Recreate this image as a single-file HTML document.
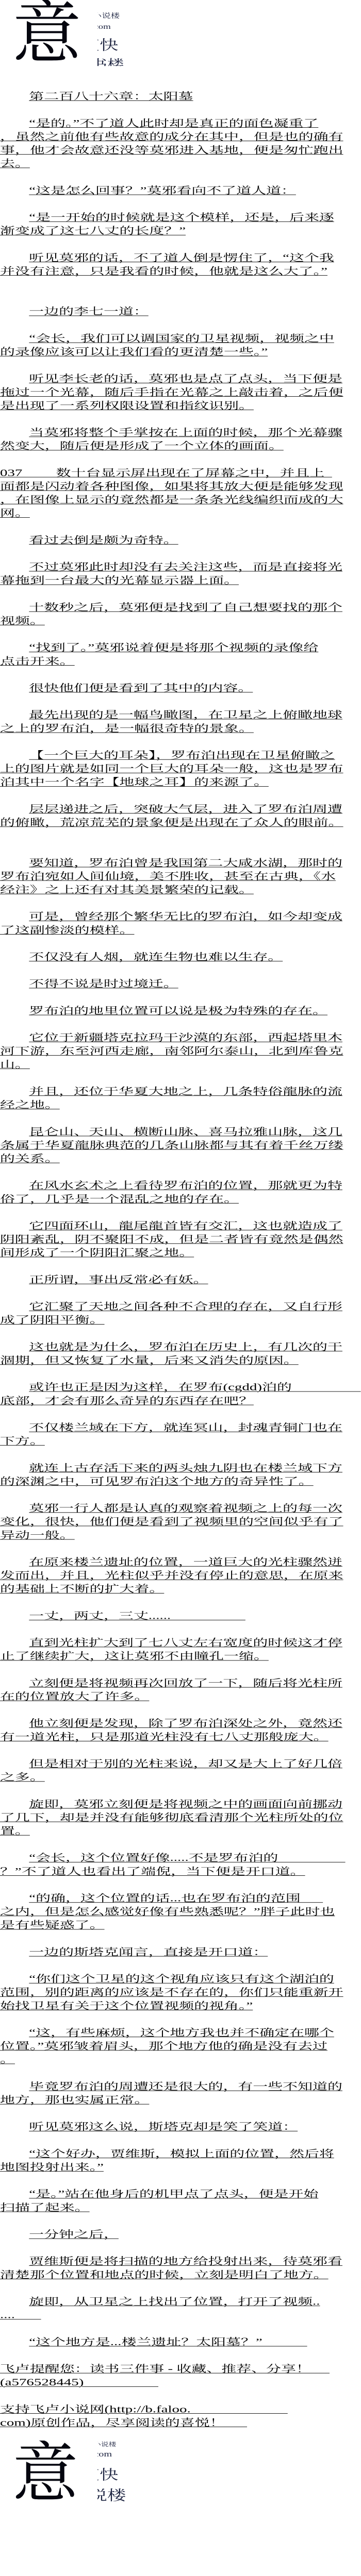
<!DOCTYPE html>
<html><head><meta charset="utf-8">
<style>
html,body{margin:0;padding:0;background:#fff;}
body{width:700px;height:5640px;position:relative;overflow:hidden;color:#000;}
#wrap{position:absolute;left:0;top:0;width:700px;height:5640px;transform:scaleY(0.87);transform-origin:0 0;overflow:hidden;}
#txt{position:absolute;left:0;top:200px;width:522px;height:5250px;transform:scaleX(1.34);transform-origin:0 0;font-family:"Liberation Serif","Noto Serif CJK SC",serif;font-size:21.6px;line-height:30px;overflow:hidden;}
#txt div{position:absolute;left:0;top:calc(var(--n) * 30px);height:30px;white-space:nowrap;}
#txt div.i{left:42px;}
#txt span{text-decoration:underline;text-decoration-thickness:1px;text-underline-offset:2px;}
.logo{position:absolute;left:0;width:260px;height:130px;overflow:hidden;transform:scaleY(1.15);transform-origin:0 0;}
.big{position:absolute;left:24px;top:-2px;font-family:"Liberation Serif","Noto Serif CJK SC",serif;font-size:134px;line-height:1;color:#05060f;}
.col{position:absolute;left:189px;top:0;width:60px;height:128px;overflow:hidden;color:#1c2340;font-family:"Liberation Serif","Noto Serif CJK SC",serif;}
.col .in{position:absolute;left:0;top:0;width:60px;height:130px;transform:scaleX(1.35);transform-origin:0 0;}
.col p{position:absolute;margin:0;white-space:nowrap;line-height:1;}
</style></head><body>
<div id="wrap">
<div class="logo" style="top:0">
 <div class="big">意</div>
 <div class="col"><div class="in">
  <p style="top:24px;left:-7px;font-size:13px">小说楼</p>
  <p style="top:46px;left:-5px;font-size:14px">com</p>
  <p style="top:75px;left:-24px;font-size:27px">爽快</p>
  <p style="top:114px;left:-10px;font-size:24px">书楼</p>
 </div></div>
</div>

<div id="txt">
<div class="i" style="--n:0"><span>第二百八十六章：太阳墓</span></div>
<div class="i" style="--n:2"><span>“是的。”不了道人此时却是真正的面色凝重了</span></div>
<div style="--n:3"><span>，虽然之前他有些故意的成分在其中，但是也的确有</span></div>
<div style="--n:4"><span>事，他才会故意还没等莫邪进入基地，便是匆忙跑出</span></div>
<div style="--n:5"><span>去。</span></div>
<div class="i" style="--n:7"><span>“这是怎么回事？”莫邪看向不了道人道：</span></div>
<div class="i" style="--n:9"><span>“是一开始的时候就是这个模样，还是，后来逐</span></div>
<div style="--n:10"><span>渐变成了这七八丈的长度？”</span></div>
<div class="i" style="--n:12"><span>听见莫邪的话，不了道人倒是愣住了，“这个我</span></div>
<div style="--n:13"><span>并没有注意，只是我看的时候，他就是这么大了。”</span></div>
<div class="i" style="--n:16"><span>一边的李七一道：</span></div>
<div class="i" style="--n:18"><span>“会长，我们可以调国家的卫星视频，视频之中</span></div>
<div style="--n:19"><span>的录像应该可以让我们看的更清楚一些。”</span></div>
<div class="i" style="--n:21"><span>听见李长老的话，莫邪也是点了点头，当下便是</span></div>
<div style="--n:22"><span>拖过一个光幕，随后手指在光幕之上敲击着，之后便</span></div>
<div style="--n:23"><span>是出现了一系列权限设置和指纹识别。</span></div>
<div class="i" style="--n:25"><span>当莫邪将整个手掌按在上面的时候，那个光幕骤</span></div>
<div style="--n:26"><span>然变大，随后便是形成了一个立体的画面。</span></div>
<div style="--n:28"><span>037&nbsp;&nbsp;&nbsp;&nbsp;&nbsp;&nbsp;&nbsp;&nbsp;&nbsp;数十台显示屏出现在了屏幕之中，并且上&nbsp;&nbsp;</span></div>
<div style="--n:29"><span>面都是闪动着各种图像，如果将其放大便是能够发现</span></div>
<div style="--n:30"><span>，在图像上显示的竟然都是一条条光线编织而成的大</span></div>
<div style="--n:31"><span>网。</span></div>
<div class="i" style="--n:33"><span>看过去倒是颇为奇特。</span></div>
<div class="i" style="--n:35"><span>不过莫邪此时却没有去关注这些，而是直接将光</span></div>
<div style="--n:36"><span>幕拖到一台最大的光幕显示器上面。</span></div>
<div class="i" style="--n:38"><span>十数秒之后，莫邪便是找到了自己想要找的那个</span></div>
<div style="--n:39"><span>视频。</span></div>
<div class="i" style="--n:41"><span>“找到了。”莫邪说着便是将那个视频的录像给</span></div>
<div style="--n:42"><span>点击开来。</span></div>
<div class="i" style="--n:44"><span>很快他们便是看到了其中的内容。</span></div>
<div class="i" style="--n:46"><span>最先出现的是一幅鸟瞰图，在卫星之上俯瞰地球</span></div>
<div style="--n:47"><span>之上的罗布泊，是一幅很奇特的景象。</span></div>
<div class="i" style="--n:49"><span>【一个巨大的耳朵】，罗布泊出现在卫星俯瞰之</span></div>
<div style="--n:50"><span>上的图片就是如同一个巨大的耳朵一般，这也是罗布</span></div>
<div style="--n:51"><span>泊其中一个名字【地球之耳】的来源了。</span></div>
<div class="i" style="--n:53"><span>层层递进之后，突破大气层，进入了罗布泊周遭</span></div>
<div style="--n:54"><span>的俯瞰，荒凉荒芜的景象便是出现在了众人的眼前。</span></div>
<div class="i" style="--n:57"><span>要知道，罗布泊曾是我国第二大咸水湖，那时的</span></div>
<div style="--n:58"><span>罗布泊宛如人间仙境，美不胜收，甚至在古典，《水</span></div>
<div style="--n:59"><span>经注》之上还有对其美景繁荣的记载。</span></div>
<div class="i" style="--n:61"><span>可是，曾经那个繁华无比的罗布泊，如今却变成</span></div>
<div style="--n:62"><span>了这副惨淡的模样。</span></div>
<div class="i" style="--n:64"><span>不仅没有人烟，就连生物也难以生存。</span></div>
<div class="i" style="--n:66"><span>不得不说是时过境迁。</span></div>
<div class="i" style="--n:68"><span>罗布泊的地里位置可以说是极为特殊的存在。</span></div>
<div class="i" style="--n:70"><span>它位于新疆塔克拉玛干沙漠的东部，西起塔里木</span></div>
<div style="--n:71"><span>河下游，东至河西走廊，南邻阿尔泰山，北到库鲁克</span></div>
<div style="--n:72"><span>山。</span></div>
<div class="i" style="--n:74"><span>并且，还位于华夏大地之上，几条特俗龍脉的流</span></div>
<div style="--n:75"><span>经之地。</span></div>
<div class="i" style="--n:77"><span>昆仑山、天山、横断山脉、喜马拉雅山脉，这几</span></div>
<div style="--n:78"><span>条属于华夏龍脉典范的几条山脉都与其有着千丝万缕</span></div>
<div style="--n:79"><span>的关系。</span></div>
<div class="i" style="--n:81"><span>在风水玄术之上看待罗布泊的位置，那就更为特</span></div>
<div style="--n:82"><span>俗了，几乎是一个混乱之地的存在。</span></div>
<div class="i" style="--n:84"><span>它四面环山，龍尾龍首皆有交汇，这也就造成了</span></div>
<div style="--n:85"><span>阴阳紊乱，阴不聚阳不成，但是二者皆有竟然是偶然</span></div>
<div style="--n:86"><span>间形成了一个阴阳汇聚之地。</span></div>
<div class="i" style="--n:88"><span>正所谓，事出反常必有妖。</span></div>
<div class="i" style="--n:90"><span>它汇聚了天地之间各种不合理的存在，又自行形</span></div>
<div style="--n:91"><span>成了阴阳平衡。</span></div>
<div class="i" style="--n:93"><span>这也就是为什么，罗布泊在历史上，有几次的干</span></div>
<div style="--n:94"><span>涸期，但又恢复了水量，后来又消失的原因。</span></div>
<div class="i" style="--n:96"><span>或许也正是因为这样，在罗布(cgdd)泊的&nbsp;&nbsp;&nbsp;&nbsp;&nbsp;&nbsp;&nbsp;&nbsp;&nbsp;&nbsp;&nbsp;&nbsp;&nbsp;&nbsp;&nbsp;&nbsp;&nbsp;&nbsp;&nbsp;&nbsp;</span></div>
<div style="--n:97"><span>底部，才会有那么奇异的东西存在吧？</span></div>
<div class="i" style="--n:99"><span>不仅楼兰域在下方，就连冥山，封魂青铜门也在</span></div>
<div style="--n:100"><span>下方。</span></div>
<div class="i" style="--n:102"><span>就连上古存活下来的两头烛九阴也在楼兰域下方</span></div>
<div style="--n:103"><span>的深渊之中，可见罗布泊这个地方的奇异性了。</span></div>
<div class="i" style="--n:105"><span>莫邪一行人都是认真的观察着视频之上的每一次</span></div>
<div style="--n:106"><span>变化，很快，他们便是看到了视频里的空间似乎有了</span></div>
<div style="--n:107"><span>异动一般。</span></div>
<div class="i" style="--n:109"><span>在原来楼兰遗址的位置，一道巨大的光柱骤然迸</span></div>
<div style="--n:110"><span>发而出，并且，光柱似乎并没有停止的意思，在原来</span></div>
<div style="--n:111"><span>的基础上不断的扩大着。</span></div>
<div class="i" style="--n:113"><span>一丈，两丈，三丈......&nbsp;&nbsp;&nbsp;&nbsp;&nbsp;&nbsp;&nbsp;&nbsp;&nbsp;&nbsp;&nbsp;&nbsp;&nbsp;&nbsp;&nbsp;&nbsp;&nbsp;&nbsp;&nbsp;&nbsp;</span></div>
<div class="i" style="--n:115"><span>直到光柱扩大到了七八丈左右宽度的时候这才停</span></div>
<div style="--n:116"><span>止了继续扩大，这让莫邪不由瞳孔一缩。</span></div>
<div class="i" style="--n:118"><span>立刻便是将视频再次回放了一下，随后将光柱所</span></div>
<div style="--n:119"><span>在的位置放大了许多。</span></div>
<div class="i" style="--n:121"><span>他立刻便是发现，除了罗布泊深处之外，竟然还</span></div>
<div style="--n:122"><span>有一道光柱，只是那道光柱没有七八丈那般庞大。</span></div>
<div class="i" style="--n:124"><span>但是相对于别的光柱来说，却又是大上了好几倍</span></div>
<div style="--n:125"><span>之多。</span></div>
<div class="i" style="--n:127"><span>旋即，莫邪立刻便是将视频之中的画面向前挪动</span></div>
<div style="--n:128"><span>了几下，却是并没有能够彻底看清那个光柱所处的位</span></div>
<div style="--n:129"><span>置。</span></div>
<div class="i" style="--n:131"><span>“会长，这个位置好像.....不是罗布泊的&nbsp;&nbsp;&nbsp;&nbsp;&nbsp;&nbsp;&nbsp;&nbsp;&nbsp;&nbsp;&nbsp;&nbsp;&nbsp;&nbsp;&nbsp;&nbsp;&nbsp;&nbsp;</span></div>
<div style="--n:132"><span>？”不了道人也看出了端倪，当下便是开口道。</span></div>
<div class="i" style="--n:134"><span>“的确，这个位置的话...也在罗布泊的范围&nbsp;&nbsp;&nbsp;&nbsp;&nbsp;&nbsp;</span></div>
<div style="--n:135"><span>之内，但是怎么感觉好像有些熟悉呢？”胖子此时也</span></div>
<div style="--n:136"><span>是有些疑惑了。</span></div>
<div class="i" style="--n:138"><span>一边的斯塔克闻言，直接是开口道：</span></div>
<div class="i" style="--n:140"><span>“你们这个卫星的这个视角应该只有这个湖泊的</span></div>
<div style="--n:141"><span>范围，别的距离的应该是不存在的，你们只能重新开</span></div>
<div style="--n:142"><span>始找卫星有关于这个位置视频的视角。”</span></div>
<div class="i" style="--n:144"><span>“这，有些麻烦，这个地方我也并不确定在哪个</span></div>
<div style="--n:145"><span>位置。”莫邪皱着眉头，那个地方他的确是没有去过</span></div>
<div style="--n:146"><span>。</span></div>
<div class="i" style="--n:148"><span>毕竟罗布泊的周遭还是很大的，有一些不知道的</span></div>
<div style="--n:149"><span>地方，那也实属正常。</span></div>
<div class="i" style="--n:151"><span>听见莫邪这么说，斯塔克却是笑了笑道：</span></div>
<div class="i" style="--n:153"><span>“这个好办，贾维斯，模拟上面的位置，然后将</span></div>
<div style="--n:154"><span>地图投射出来。”</span></div>
<div class="i" style="--n:156"><span>“是。”站在他身后的机甲点了点头，便是开始</span></div>
<div style="--n:157"><span>扫描了起来。</span></div>
<div class="i" style="--n:159"><span>一分钟之后，</span></div>
<div class="i" style="--n:161"><span>贾维斯便是将扫描的地方给投射出来，待莫邪看</span></div>
<div style="--n:162"><span>清楚那个位置和地点的时候，立刻是明白了地方。</span></div>
<div class="i" style="--n:164"><span>旋即，从卫星之上找出了位置，打开了视频..</span></div>
<div style="--n:165"><span>....&nbsp;&nbsp;&nbsp;&nbsp;&nbsp;&nbsp;&nbsp;</span></div>
<div class="i" style="--n:167"><span>“这个地方是...楼兰遗址？太阳墓？”&nbsp;&nbsp;&nbsp;&nbsp;&nbsp;&nbsp;&nbsp;&nbsp;&nbsp;&nbsp;&nbsp;&nbsp;</span></div>
<div style="--n:169"><span>飞卢提醒您：读书三件事 - 收藏、推荐、分享！&nbsp;&nbsp;&nbsp;&nbsp;&nbsp;</span></div>
<div style="--n:170"><span>(a576528445)&nbsp;&nbsp;&nbsp;&nbsp;&nbsp;&nbsp;&nbsp;&nbsp;&nbsp;&nbsp;&nbsp;&nbsp;&nbsp;&nbsp;&nbsp;&nbsp;&nbsp;&nbsp;&nbsp;&nbsp;</span></div>
<div style="--n:172"><span>支持飞卢小说网(http://b.faloo.&nbsp;&nbsp;&nbsp;&nbsp;&nbsp;&nbsp;&nbsp;&nbsp;&nbsp;&nbsp;&nbsp;&nbsp;&nbsp;&nbsp;&nbsp;&nbsp;&nbsp;&nbsp;&nbsp;&nbsp;&nbsp;&nbsp;&nbsp;&nbsp;&nbsp;&nbsp;</span></div>
<div style="--n:173"><span>com)原创作品，尽享阅读的喜悦！&nbsp;&nbsp;&nbsp;&nbsp;&nbsp;&nbsp;</span></div>
</div>

<div class="logo" style="top:5445px">
 <div class="big" style="font-size:128px;top:0">意</div>
 <div class="col"><div class="in">
  <p style="top:3px;left:-6px;font-size:11px">小说楼</p>
  <p style="top:20px;left:-5px;font-size:15px">com</p>
  <p style="top:54px;left:-24px;font-size:27px">爽快</p>
  <p style="top:94px;left:-13px;font-size:27px">说楼</p>
 </div></div>
</div>
</div>
</body></html>
